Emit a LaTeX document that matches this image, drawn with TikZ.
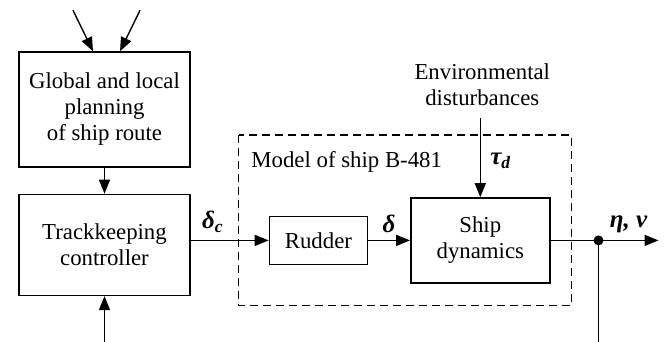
\documentclass[tikz,border=0pt]{standalone}
\usepackage{fontspec}
\setmainfont{Liberation Serif}
\usepackage{tikz}
\usetikzlibrary{arrows.meta,positioning,calc}

\begin{document}
\begin{tikzpicture}[x=1pt, y=-1pt,
    line width=1.4pt,
    font=\fontsize{22.8}{26}\selectfont,
    >={Triangle[length=14pt,width=11pt]},
    blk/.style={rectangle, draw, align=center, inner sep=2pt},
    sig/.style={font=\fontsize{25}{28}\selectfont\bfseries\itshape},
    model/.style={draw, dash pattern=on 8pt off 5pt},
]
\useasboundingbox (0,0) rectangle (664,342);

\node[blk, minimum width=171pt, minimum height=115pt] (plan) at (104.5,109.5) {Global and local\\planning\\of ship route};
\node[blk, minimum width=171pt, minimum height=101pt, below=26pt of plan] (track) {Trackkeeping\\controller};
\node[blk, minimum width=98pt, minimum height=48pt, right=78pt of track, yshift=4.5pt] (rudder) {Rudder};
\node[blk, minimum width=139pt, minimum height=85pt, right=42pt of rudder] (ship) {Ship\\dynamics};
\node[align=center, inner sep=0pt, above=91pt of ship, xshift=2pt] (env) {Environmental\\disturbances};

\coordinate (mtl) at ($(rudder.west |- ship.north)+(-30,-62)$);
\coordinate (mbr) at ($(ship.south east)+(21,22)$);
\draw[model] (mtl) rectangle (mbr);
\node[anchor=base west, inner sep=0pt] (mlabel) at ($(mtl)+(12,32)$) {Model of ship B-481};

\coordinate (goal1) at ($(plan.north)+(-31.5,-41)$);
\coordinate (goal2) at ($(plan.north)+(35.5,-41)$);
\coordinate[below=48pt of track.south] (ref);
\coordinate[right=48pt of ship.east] (split);
\coordinate[right=60pt of split] (out);

\draw[->] (goal1) -- ($(plan.north)+(-11.5,0)$);
\draw[->] (goal2) -- ($(plan.north)+(15.5,0)$);
\draw[->] (plan) -- (track);
\draw[->] (ref) -- (track);
\draw[->] (track.east |- rudder) -- node[sig, above=4pt, pos=0.28] {δ\textsubscript{c}} (rudder);
\draw[->] (rudder) -- node[sig, above=4pt] {δ} (ship);
\draw[->, shorten <=12pt] (env.south -| ship.north) -- node[sig, right=6pt, pos=0.6] {τ\textsubscript{d}} (ship);
\draw[->] (ship) -- (split) -- node[sig, above=4pt] {η, ν} (out);
\fill (split) circle (5pt);
\draw (split) -- (split |- ref);

\end{tikzpicture}
\end{document}
